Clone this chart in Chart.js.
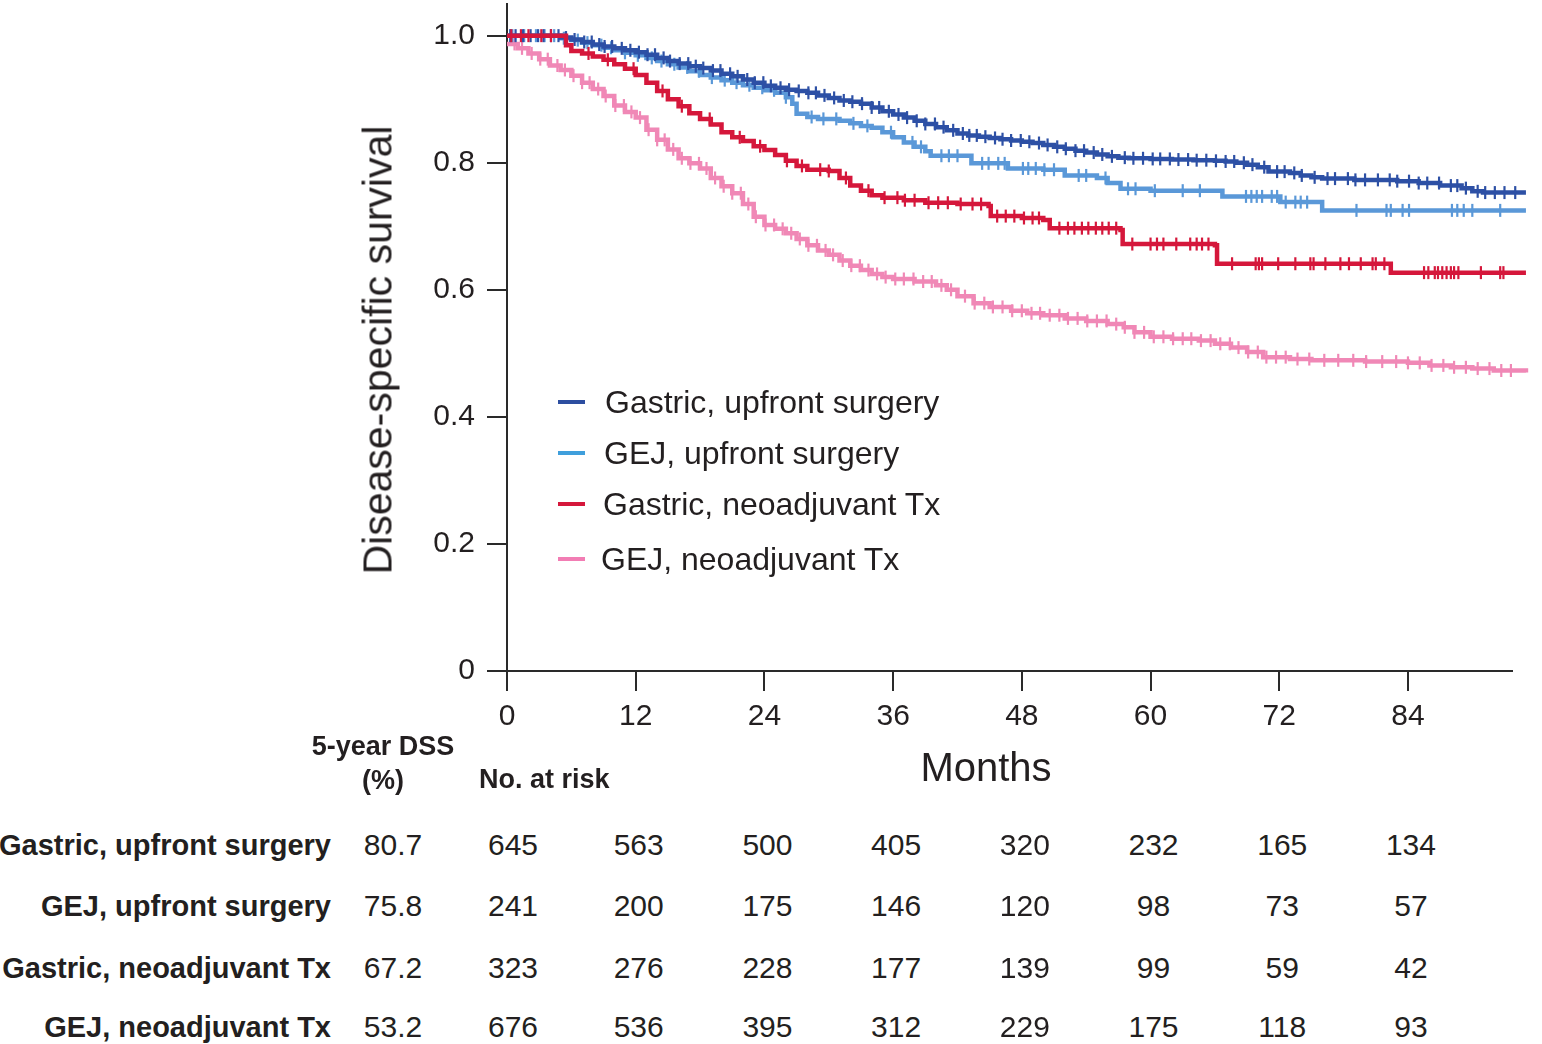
<!DOCTYPE html>
<html>
<head>
<meta charset="utf-8">
<script src="https://cdn.jsdelivr.net/npm/chart.js@4.4.1/dist/chart.umd.min.js"></script>
<style>
  html, body { margin: 0; padding: 0; background: #fff; }
  #wrap { position: relative; width: 1542px; height: 1044px; overflow: hidden; font-family: "Liberation Sans", Arial, Helvetica, sans-serif; color: #231f20; }
  #c { position: absolute; left: 0; top: -5px; }
  .t { position: absolute; white-space: nowrap; line-height: 1; }
  .b { font-weight: bold; }
  .leg-line { position: absolute; height: 4px; width: 27px; }
</style>
</head>
<body>
<div id="wrap">
  <canvas id="c" width="1542" height="805"></canvas>
</div>
<script>
// ---------------- DATA ----------------
const groups = ["Gastric, upfront surgery", "GEJ, upfront surgery", "Gastric, neoadjuvant Tx", "GEJ, neoadjuvant Tx"];
const groupColors = ["#2d50a5", "#5a98d8", "#d5173b", "#f088b6"];
const legendColors = ["#2d4ea0", "#3f9fdc", "#d5173b", "#f27db4"];

const monthTicks = [0, 12, 24, 36, 48, 60, 72, 84];
const yTickLabels = ["0", "0.2", "0.4", "0.6", "0.8", "1.0"];

// Kaplan-Meier step points [month, survival]
const gastricUpfront = [[0,1],[4,1],[5,0.997],[6,0.994],[7,0.99],[8,0.986],[9,0.983],[10,0.98],[11,0.977],[12,0.974],[13,0.97],[14,0.965],[15,0.96],[16,0.956],[17,0.952],[18,0.949],[19,0.945],[20,0.94],[21,0.936],[22,0.931],[23,0.926],[24,0.921],[25,0.918],[26,0.915],[27,0.913],[28,0.91],[29,0.906],[30,0.902],[31,0.898],[32,0.896],[33,0.893],[34,0.887],[35,0.881],[36,0.876],[37,0.871],[38,0.866],[39,0.861],[40,0.856],[41,0.851],[42,0.846],[43,0.843],[44,0.841],[45,0.839],[46,0.837],[47,0.835],[48,0.833],[49,0.831],[50,0.828],[51,0.825],[52,0.822],[53,0.819],[54,0.816],[55,0.813],[56,0.81],[57,0.808],[58,0.807],[60,0.806],[62,0.805],[64,0.804],[66,0.803],[67,0.802],[68,0.8],[69,0.797],[70,0.793],[71,0.786],[73,0.784],[74,0.78],[75,0.777],[76,0.775],[79,0.773],[83,0.771],[85,0.768],[87,0.764],[89,0.76],[90,0.755],[91,0.753],[95,0.753]];
const gejUpfront = [[0,1],[4,1],[5,0.996],[6,0.993],[7,0.989],[8,0.985],[9,0.981],[10,0.977],[11,0.973],[12,0.969],[13,0.965],[14,0.96],[15,0.955],[16,0.95],[17,0.944],[18,0.938],[19,0.934],[20,0.93],[21,0.926],[22,0.922],[23,0.918],[24,0.914],[25,0.91],[26,0.903],[26.6,0.893],[27,0.877],[28,0.872],[29,0.869],[31,0.866],[32,0.862],[33,0.858],[34,0.855],[35,0.848],[36,0.84],[37,0.832],[38,0.825],[39,0.818],[39.5,0.811],[43.3,0.799],[46.7,0.791],[50,0.789],[52,0.78],[55,0.776],[56,0.768],[57.2,0.759],[60,0.756],[66.7,0.747],[72.1,0.738],[76,0.725],[95,0.725]];
const gastricNeo = [[0,1],[5,1],[5.5,0.985],[6,0.976],[7,0.972],[8,0.967],[9,0.962],[10,0.955],[11,0.948],[12,0.938],[13,0.926],[14,0.913],[15,0.9],[16,0.889],[17,0.878],[18,0.869],[19,0.86],[20,0.848],[21,0.84],[22,0.834],[23,0.826],[24,0.82],[25,0.812],[26,0.803],[27,0.795],[28,0.789],[30,0.787],[31,0.776],[32,0.764],[33,0.756],[34,0.749],[35,0.745],[37,0.741],[39,0.737],[42,0.735],[44.9,0.732],[45.1,0.716],[48,0.713],[50,0.71],[50.6,0.697],[57.2,0.694],[57.4,0.672],[66.0,0.67],[66.2,0.641],[82.3,0.641],[82.4,0.627],[95,0.627]];
const gejNeo = [[0,0.987],[1,0.98],[2,0.972],[3,0.963],[4,0.953],[5,0.946],[6,0.937],[7,0.926],[8,0.916],[9,0.905],[10,0.89],[11,0.88],[12,0.871],[13,0.852],[14,0.836],[15,0.821],[16,0.807],[17,0.799],[18,0.791],[19,0.776],[20,0.763],[21,0.752],[22,0.735],[23,0.715],[24,0.702],[25,0.696],[26,0.689],[27,0.68],[28,0.67],[29,0.662],[30,0.655],[31,0.646],[32,0.638],[33,0.631],[34,0.625],[35,0.62],[36,0.617],[38,0.613],[40,0.607],[41,0.6],[42,0.59],[43.5,0.579],[45,0.573],[47,0.567],[48.5,0.563],[50,0.56],[52,0.555],[54,0.551],[56,0.546],[57.5,0.541],[58.5,0.533],[60,0.526],[62,0.523],[64.5,0.52],[66,0.515],[67.5,0.509],[69,0.502],[70.5,0.494],[73,0.491],[75,0.489],[80,0.487],[84,0.485],[86,0.481],[88,0.478],[90,0.476],[92,0.473],[95,0.47]];

// censoring times (months)
const gastricUpfrontCensor = [0.3,0.8,1.5,2.2,2.9,3.4,4.1,4.8,5.5,6.3,7.2,7.9,8.6,9.1,9.8,10.7,11.5,12.3,13.1,13.8,14.6,15.2,16.1,16.9,17.6,18.3,19.2,19.9,20.8,21.5,22.4,23.1,23.9,24.6,25.5,26.3,27.2,28.1,28.8,29.6,30.5,31.4,32.2,33.1,34.0,34.7,35.6,36.5,37.3,38.2,39.0,39.9,40.7,41.6,42.5,43.1,43.8,44.6,45.5,46.2,47.0,47.9,48.7,49.6,50.4,51.3,52.1,53.0,53.8,54.7,55.5,56.4,57.6,58.4,59.3,60.2,60.9,61.8,62.6,63.5,64.3,65.2,66.1,67.0,67.8,68.7,69.5,70.6,71.8,72.5,73.4,74.1,75.3,76.5,77.2,78.4,79.1,80.0,81.2,82.3,83.0,84.1,85.0,85.8,86.9,88.0,88.6,89.4,90.5,91.2,92.1,93.0,94.0,94.8];
const gejUpfrontCensor = [0.5,1.6,2.7,3.5,4.4,5.3,6.6,7.5,8.8,9.7,11.0,12.2,13.5,14.4,15.6,16.8,17.9,19.1,20.3,21.4,22.6,23.8,24.9,26.0,28.4,29.5,30.7,32.3,33.6,35.8,37.8,38.6,40.5,41.2,42.0,44.3,44.9,45.8,46.4,48.1,48.6,49.3,50.1,51.0,53.3,54.0,55.8,57.9,58.6,60.4,63.0,64.6,68.9,69.4,69.9,70.4,71.3,71.8,72.6,73.5,74.0,74.6,79.2,82.0,82.4,83.5,84.1,88.1,88.6,89.2,90.0,92.6,94.9];
const gastricNeoCensor = [0.4,1.3,2.0,3.2,4.1,7.6,9.4,11.8,14.5,16.3,18.9,21.7,23.6,26.1,27.5,29.2,30.0,31.6,33.7,35.2,36.4,37.1,38.0,39.3,40.2,41.1,42.3,43.4,44.2,45.7,46.5,47.3,48.2,49.0,49.6,51.5,52.3,52.9,53.6,54.2,54.9,55.5,56.1,56.8,58.3,60.0,60.6,61.2,62.4,63.7,64.3,64.8,65.4,67.6,69.8,70.1,70.4,71.9,73.5,74.9,75.2,76.3,77.7,78.5,79.6,80.7,81.0,81.8,85.5,85.9,86.5,86.8,87.2,87.6,88.0,88.3,88.7,90.8,92.6,92.9,94.8];
const gejNeoCensor = [0.7,1.4,2.3,3.1,3.8,4.7,5.4,6.2,7.0,7.7,8.5,9.2,10.1,10.9,11.6,12.4,13.2,14.0,14.7,15.5,16.3,17.1,17.9,18.6,19.4,20.2,21.0,21.8,22.5,23.2,24.1,24.9,25.7,26.5,27.3,28.1,28.9,29.7,30.4,31.3,32.1,32.9,33.7,34.5,35.3,36.2,37.0,37.9,38.8,39.6,40.5,41.4,42.7,43.6,44.5,45.3,46.2,47.1,48.0,48.9,49.7,50.6,51.5,52.3,53.2,54.1,55.0,55.9,56.8,57.6,58.5,59.4,60.3,61.2,62.1,63.0,63.8,64.7,65.6,66.5,67.4,68.2,69.1,70.0,70.8,71.7,72.6,73.7,74.8,76.2,77.5,78.9,80.1,81.6,82.9,84.0,85.1,86.2,87.3,88.3,89.4,90.5,91.6,92.7,93.6,94.6];

const dss5yr = ["80.7", "75.8", "67.2", "53.2"];
const atRiskGastricUpfront = [645, 563, 500, 405, 320, 232, 165, 134];
const atRiskGejUpfront = [241, 200, 175, 146, 120, 98, 73, 57];
const atRiskGastricNeo = [323, 276, 228, 177, 139, 99, 59, 42];
const atRiskGejNeo = [676, 536, 395, 312, 229, 175, 118, 93];

// ---------------- BUILD ----------------
const curves = [gastricUpfront, gejUpfront, gastricNeo, gejNeo];
const censors = [gastricUpfrontCensor, gejUpfrontCensor, gastricNeoCensor, gejNeoCensor];
const atRisk = [atRiskGastricUpfront, atRiskGejUpfront, atRiskGastricNeo, atRiskGejNeo];

function survAt(curve, t) {
  let s = curve[0][1];
  for (const p of curve) { if (p[0] <= t) s = p[1]; else break; }
  return s;
}

const FONT = '"Liberation Sans", Arial, Helvetica, sans-serif';
const drawOrder = [2, 0, 1, 3]; // red on top
const datasets = [];
drawOrder.forEach((gi, k) => {
  datasets.push({
    type: 'scatter',
    label: groups[gi] + ' censored',
    data: censors[gi].map(t => ({ x: t, y: survAt(curves[gi], t) })),
    pointStyle: 'line', rotation: 90, pointRadius: 6.5, pointHoverRadius: 6.5,
    borderColor: groupColors[gi], backgroundColor: groupColors[gi], borderWidth: 2.2,
    showLine: false, clip: false, order: k * 2
  });
  datasets.push({
    type: 'line',
    label: groups[gi],
    data: curves[gi].map(p => ({ x: p[0], y: p[1] })),
    stepped: true, borderColor: groupColors[gi], borderWidth: 4.5,
    pointRadius: 0, fill: false, clip: false, order: k * 2 + 1
  });
});

const chart = new Chart(document.getElementById('c'), {
  data: { datasets },
  options: {
    responsive: false, animation: false, devicePixelRatio: 1,
    layout: { padding: { left: 0, top: 0, right: 30, bottom: 0 } },
    plugins: { legend: { display: false }, tooltip: { enabled: false } },
    scales: {
      x: {
        type: 'linear', min: 0, max: 93.7,
        afterFit: s => { s.height = 129; s.paddingLeft = 0; s.paddingRight = 0; },
        ticks: {
          stepSize: 12, includeBounds: false, autoSkip: false, maxRotation: 0, padding: 8,
          color: '#231f20', font: { family: FONT, size: 30 },
          callback: v => monthTicks.includes(v) ? String(v) : ''
        },
        grid: { display: true, drawOnChartArea: false, drawTicks: true, tickLength: 20, color: '#2a2a2a', lineWidth: 2 },
        border: { display: true, color: '#2a2a2a', width: 2 }
      },
      y: {
        type: 'linear', min: 0, max: 1.0503,
        afterFit: s => { s.width = 507; s.paddingTop = 0; s.paddingBottom = 0; },
        afterBuildTicks: s => { s.ticks = s.ticks.filter(t => t.value <= 1.0001); },
        ticks: {
          stepSize: 0.2, includeBounds: false, padding: 12,
          color: '#231f20', font: { family: FONT, size: 30 },
          callback: v => yTickLabels[Math.round(v / 0.2)]
        },
        grid: { display: true, drawOnChartArea: false, drawTicks: true, tickLength: 20, color: '#2a2a2a', lineWidth: 2 },
        border: { display: true, color: '#2a2a2a', width: 2 }
      }
    }
  }
});

// ---------------- TEXT OVERLAYS ----------------
const wrap = document.getElementById('wrap');
function addText(txt, x, y, size, opts = {}) {
  const d = document.createElement('div');
  d.className = 't' + (opts.bold ? ' b' : '');
  d.textContent = txt;
  d.style.fontSize = size + 'px';
  const ax = opts.align === 'right' ? '-100%' : opts.align === 'left' ? '0' : '-50%';
  d.style.left = x + 'px';
  d.style.top = y + 'px';
  d.style.transform = `translate(${ax}, -50%)` + (opts.rotate ? ` rotate(${opts.rotate}deg)` : '');
  if (opts.rotate) d.style.transformOrigin = 'center';
  wrap.appendChild(d);
  return d;
}

// axis titles
addText('Months', 986, 767, 40);
addText('Disease-specific survival', 378, 350, 41, { rotate: -90 });

// legend
const legY = [402, 453, 504, 559];
const legTextX = [605, 604, 603, 601];
groups.forEach((g, i) => {
  const l = document.createElement('div');
  l.className = 'leg-line';
  l.style.left = '558px';
  l.style.top = (legY[i] - 2) + 'px';
  l.style.background = legendColors[i];
  wrap.appendChild(l);
  addText(g, legTextX[i], legY[i], 32, { align: 'left' });
});

// table
addText('5-year DSS', 383, 746, 27, { bold: true });
addText('(%)', 383, 780, 27, { bold: true });
addText('No. at risk', 479, 779, 27, { bold: true, align: 'left' });
const rowY = [845, 906, 968, 1027];
const xs = chart.scales.x;
groups.forEach((g, i) => {
  addText(g, 331, rowY[i], 29, { bold: true, align: 'right' });
  addText(dss5yr[i], 393, rowY[i], 30);
  atRisk[i].forEach((n, j) => {
    const px = xs.getPixelForValue(monthTicks[j]) + (j === 0 ? 6 : 3);
    addText(String(n), px, rowY[i], 30);
  });
});
</script>
</body>
</html>
